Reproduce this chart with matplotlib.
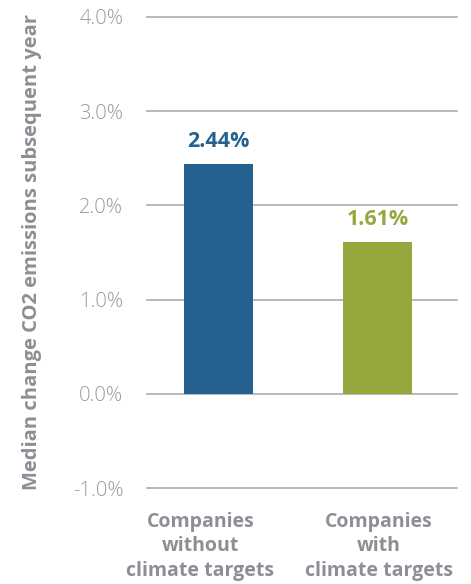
import matplotlib.pyplot as plt

categories = ["Companies\nwithout\nclimate targets", "Companies\nwith\nclimate targets"]
values = [2.44, 1.61]
bar_colors = ["#24618e", "#97a73d"]
yticks = [-1.0, 0.0, 1.0, 2.0, 3.0, 4.0]

gray = "#8c9096"
plt.rcParams['font.family'] = ['Open Sans', 'DejaVu Sans']

fig = plt.figure(figsize=(4.71, 5.84), dpi=100)
ax = fig.add_axes([147 / 471, 96 / 584, 310 / 471, 471 / 584])

x = list(range(len(values)))
ax.bar(x, values, width=0.434, color=bar_colors, zorder=3)

for xi, v, c in zip(x, values, bar_colors):
    ax.annotate("{0:.2f}%".format(v), (xi, v), xytext=(0, 16), textcoords="offset points",
                ha="center", va="center", fontsize=15.5, fontweight="bold", color=c)

ax.set_xlim(-0.45, 1.5)
ax.set_ylim(-1.0, 4.0)
ax.set_yticks(yticks)
ax.set_yticklabels(["{0:.1f}%".format(t) for t in yticks], fontsize=14.5,
                   fontweight="light", color="#969aa0")
for t in yticks:
    ax.axhline(t, color="#a9adb2", lw=1.2, zorder=1, clip_on=False)

# category labels drawn as text; the first one sits a bit left of its bar
ax.set_xticks([])
label_shift = [-13, 1]
for xi, lab, dx in zip(x, categories, label_shift):
    ax.annotate(lab, (xi, -1.0), xytext=(dx, -17), textcoords="offset points",
                ha="center", va="top", fontsize=14, fontweight="bold", color=gray,
                linespacing=1.3, annotation_clip=False)

ax.tick_params(axis="both", length=0)
ax.tick_params(axis="y", pad=17)
for s in ax.spines.values():
    s.set_visible(False)

ax.set_ylabel("Median change CO2 emissions subsequent year", fontsize=14.5,
              fontweight="bold", color=gray)
ax.yaxis.set_label_coords(-0.34, 0.5)

fig.savefig("out.png", dpi=100)
